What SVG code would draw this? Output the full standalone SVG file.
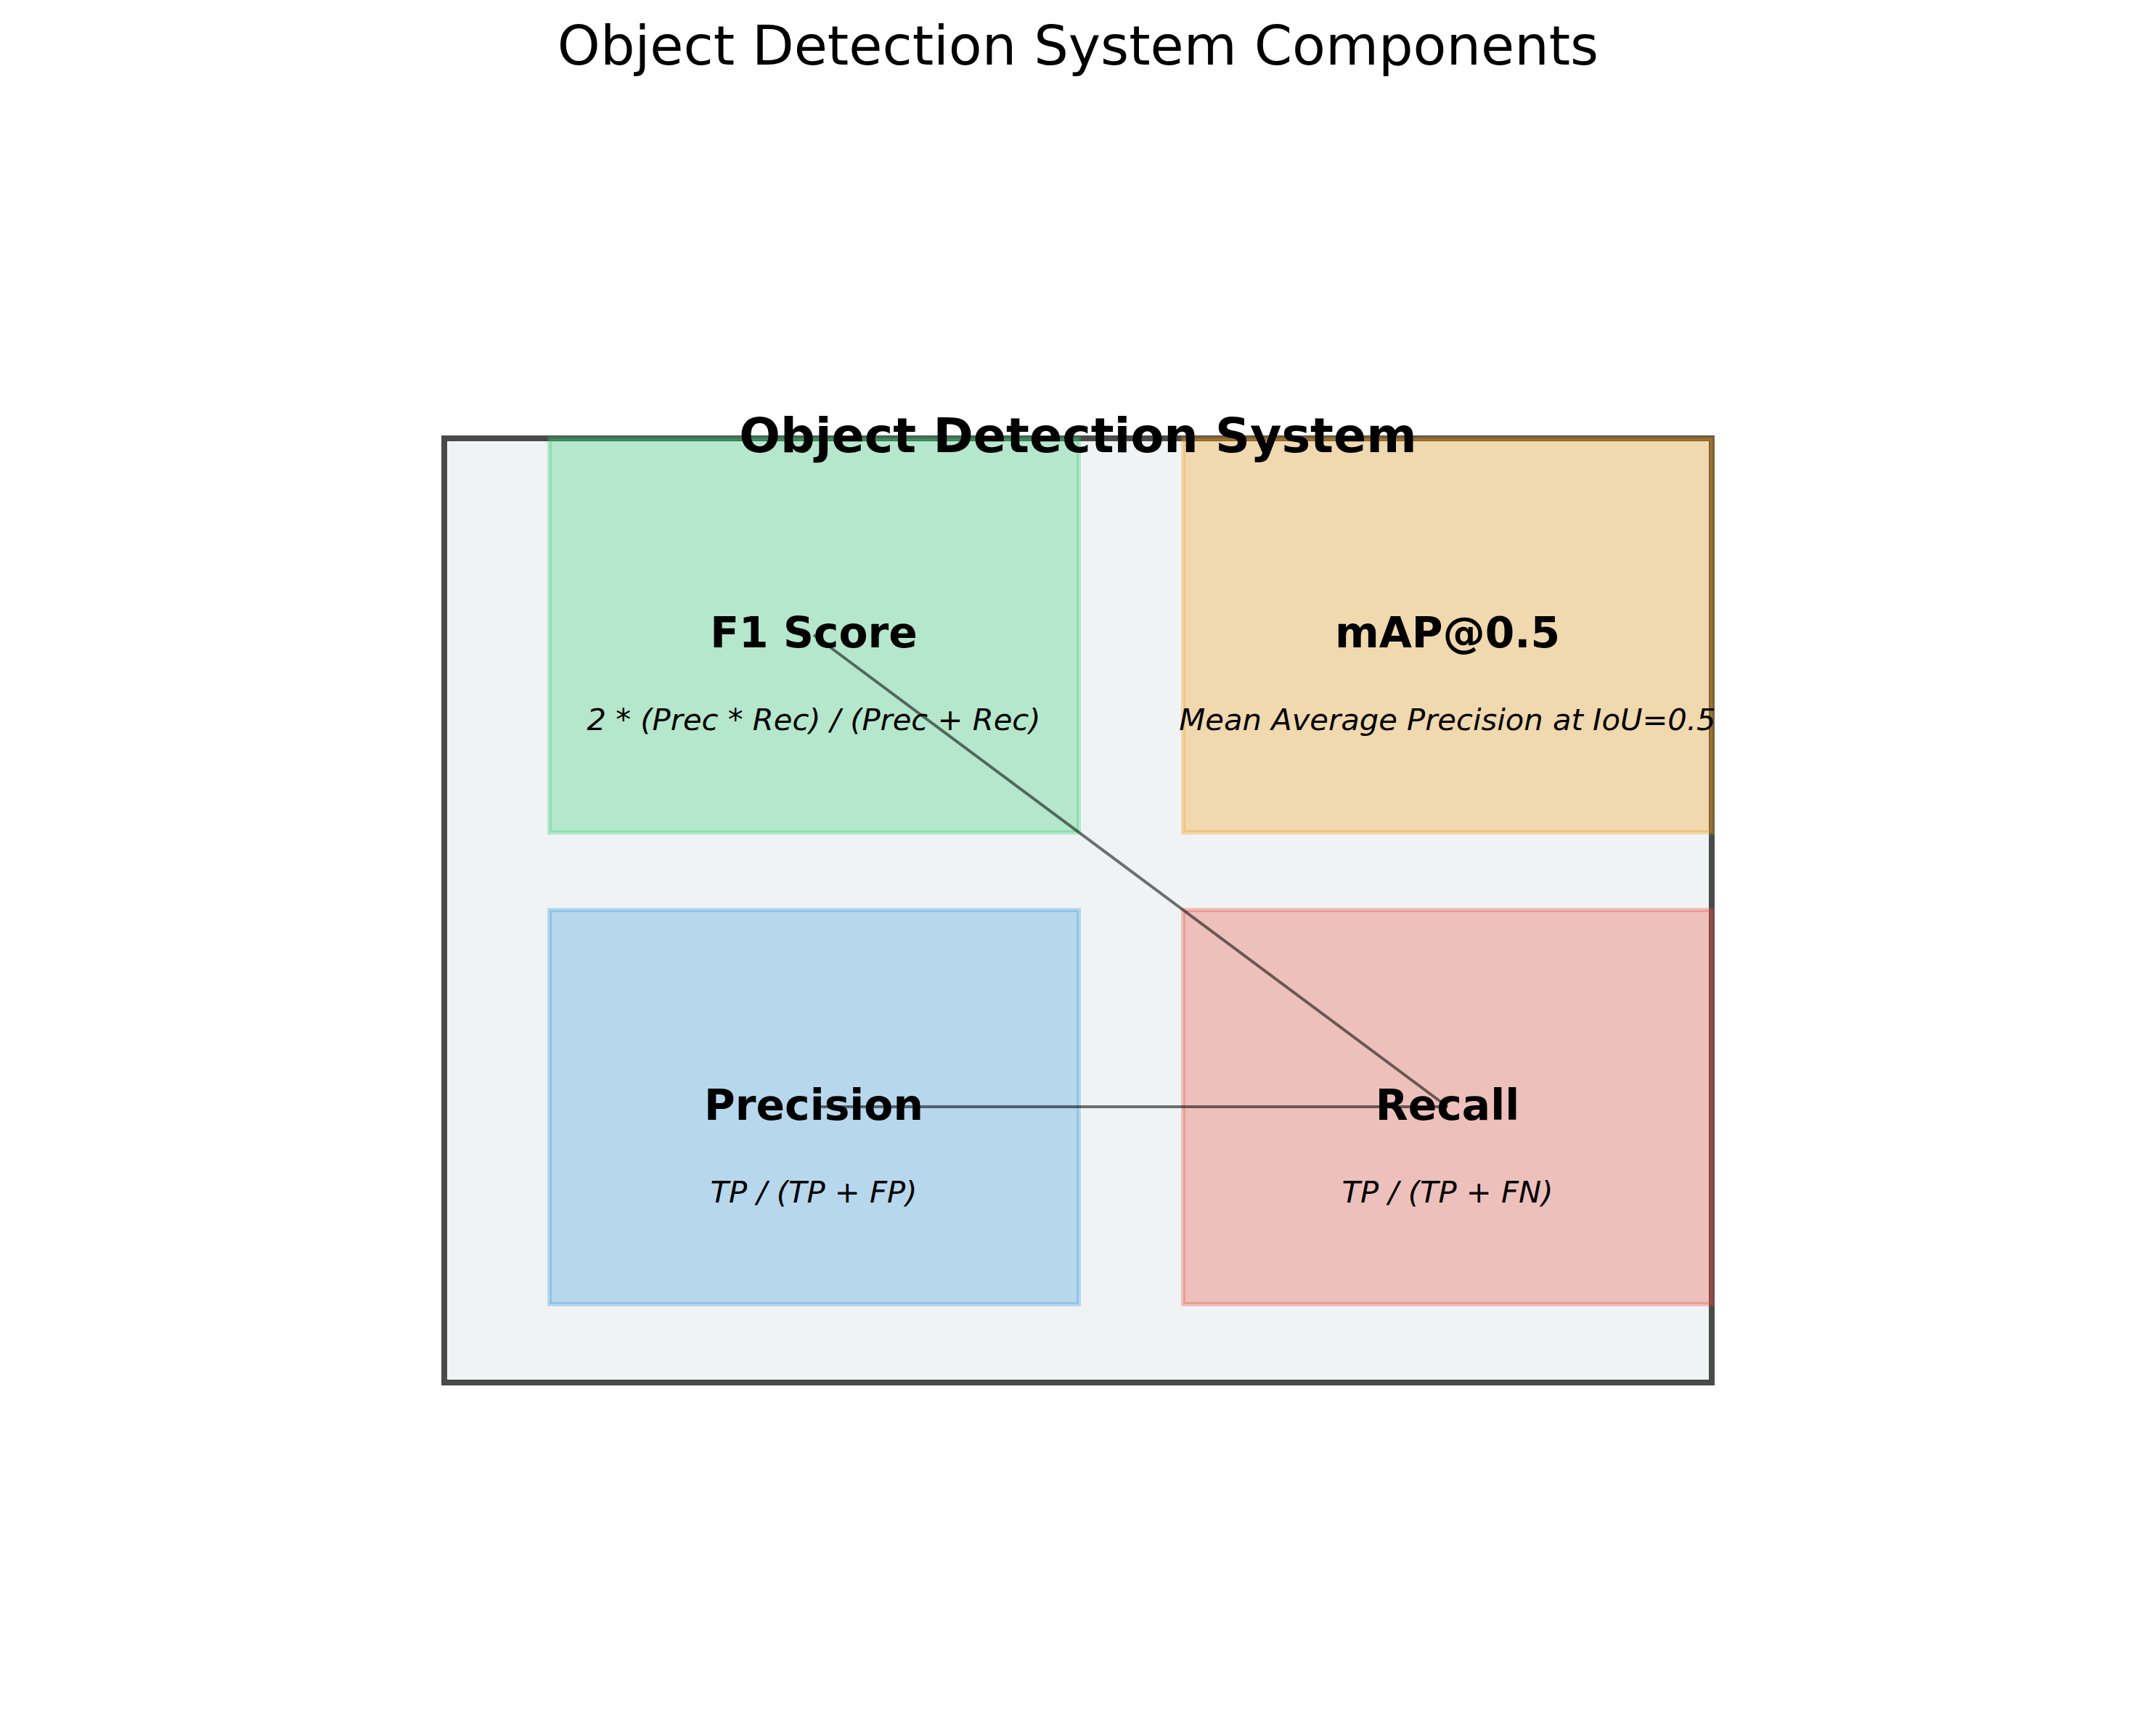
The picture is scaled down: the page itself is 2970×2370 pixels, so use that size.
<svg xmlns="http://www.w3.org/2000/svg" width="2970" height="2370" viewBox="0 0 2970 2370">
<style>
.t{font-family:"DejaVu Sans","Liberation Sans",sans-serif;fill:#000;text-anchor:middle}
.title{font-size:75px}
.sys{font-size:66.7px;font-weight:bold}
.nt{font-size:58.3px;font-weight:bold}
.nf{font-size:41.7px;font-style:italic}
.box{stroke-width:6;fill-opacity:0.3;stroke-opacity:0.3}
.conn{stroke:#000;stroke-opacity:0.55;stroke-width:4;fill:none}
</style>
<rect width="2970" height="2370" fill="#ffffff"/>
<text class="t title" x="1485" y="89">Object Detection System Components</text>
<g id="system">
<rect x="612" y="604" width="1746" height="1301" fill="#f0f3f4" stroke="#4a4a4a" stroke-width="8"/>
</g>
<g id="f1">
<rect class="box" x="757" y="604" width="729" height="543" fill="#2ecc71" stroke="#2ecc71"/>
</g>
<g id="map">
<rect class="box" x="1630" y="604" width="729" height="543" fill="#f39c12" stroke="#f39c12"/>
</g>
<g id="precision">
<rect class="box" x="757" y="1254" width="729" height="543" fill="#3498db" stroke="#3498db"/>
</g>
<g id="recall">
<rect class="box" x="1630" y="1254" width="729" height="543" fill="#e74c3c" stroke="#e74c3c"/>
</g>
<g id="connectors">
<line class="conn" x1="1121" y1="875" x2="1994" y2="1525"/>
<line class="conn" x1="1121" y1="1525" x2="1994" y2="1525"/>
</g>
<g id="labels">
<text class="t sys" x="1485" y="623">Object Detection System</text>
<text class="t nt" x="1121" y="892">F1 Score</text>
<text class="t nf" x="1121" y="1006">2 * (Prec * Rec) / (Prec + Rec)</text>
<text class="t nt" x="1994" y="892">mAP@0.5</text>
<text class="t nf" x="1994" y="1006">Mean Average Precision at IoU=0.5</text>
<text class="t nt" x="1121" y="1543">Precision</text>
<text class="t nf" x="1121" y="1657">TP / (TP + FP)</text>
<text class="t nt" x="1994" y="1543">Recall</text>
<text class="t nf" x="1994" y="1657">TP / (TP + FN)</text>
</g>
</svg>
